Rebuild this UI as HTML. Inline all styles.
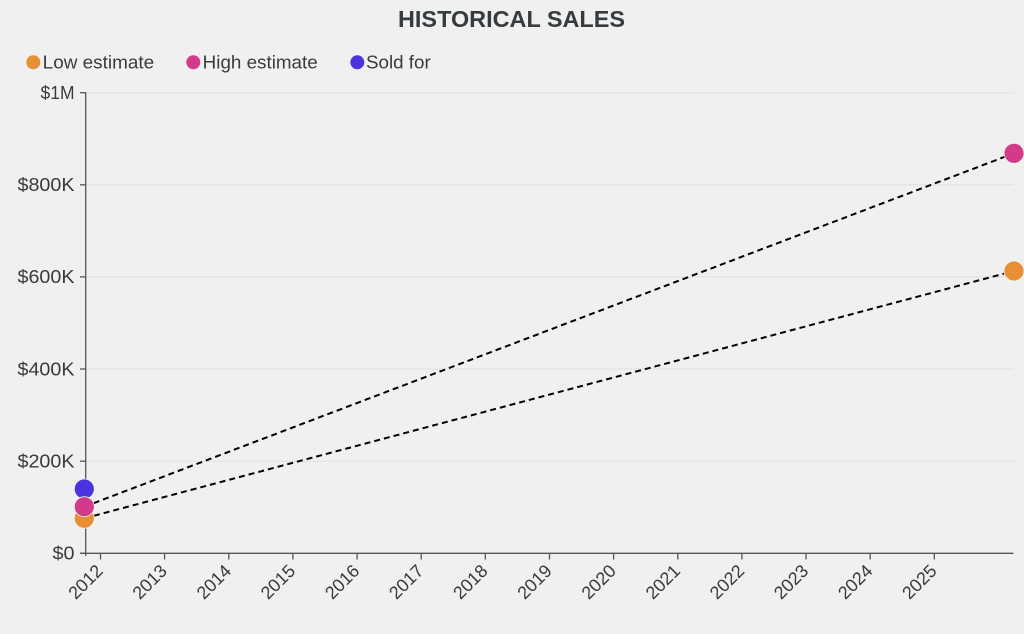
<!DOCTYPE html>
<html>
<head>
<meta charset="utf-8">
<style>
  html, body { margin: 0; padding: 0; background: #f0f0f0; }
  body { width: 1024px; height: 634px; overflow: hidden; }
  svg { display: block; font-family: "Liberation Sans", Arial, sans-serif; }
</style>
</head>
<body>
<svg width="1024" height="634" viewBox="0 0 1024 634" xmlns="http://www.w3.org/2000/svg">
  <rect width="1024" height="634" fill="#f0f0f0"/>

  <!-- Title -->
  <text x="398" y="27" font-size="23.5" font-weight="bold" fill="#353b3e" textLength="227" lengthAdjust="spacingAndGlyphs">HISTORICAL SALES</text>

  <!-- Legend -->
  <circle cx="33.3" cy="62.3" r="7" fill="#e88f33"/>
  <text x="42.7" y="68.3" font-size="18.5" fill="#383b3e" textLength="111.5" lengthAdjust="spacingAndGlyphs">Low estimate</text>
  <circle cx="193.3" cy="62.3" r="7" fill="#d33a8a"/>
  <text x="202.7" y="68.3" font-size="18.5" fill="#383b3e" textLength="115" lengthAdjust="spacingAndGlyphs">High estimate</text>
  <circle cx="357.3" cy="62.3" r="7" fill="#4b33e0"/>
  <text x="366" y="68.3" font-size="18.5" fill="#383b3e" textLength="64.7" lengthAdjust="spacingAndGlyphs">Sold for</text>

  <!-- Gridlines -->
  <g stroke="#e0e0e0" stroke-width="1">
    <line x1="86" y1="92.7" x2="1014" y2="92.7"/>
    <line x1="86" y1="184.8" x2="1014" y2="184.8"/>
    <line x1="86" y1="276.9" x2="1014" y2="276.9"/>
    <line x1="86" y1="369" x2="1014" y2="369"/>
    <line x1="86" y1="461.2" x2="1014" y2="461.2"/>
  </g>

  <!-- Y axis -->
  <g stroke="#555" stroke-width="1.3">
    <line x1="85.7" y1="92.2" x2="85.7" y2="556"/>
    <line x1="80" y1="92.7" x2="85.7" y2="92.7"/>
    <line x1="80" y1="184.8" x2="85.7" y2="184.8"/>
    <line x1="80" y1="276.9" x2="85.7" y2="276.9"/>
    <line x1="80" y1="369" x2="85.7" y2="369"/>
    <line x1="80" y1="461.2" x2="85.7" y2="461.2"/>
    <line x1="80" y1="553.3" x2="85.7" y2="553.3"/>
  </g>
  <g font-size="18" fill="#383b3e" text-anchor="end">
    <text x="74.5" y="99" textLength="34" lengthAdjust="spacingAndGlyphs">$1M</text>
    <text x="74.5" y="191.1" textLength="57" lengthAdjust="spacingAndGlyphs">$800K</text>
    <text x="74.5" y="283.2" textLength="57" lengthAdjust="spacingAndGlyphs">$600K</text>
    <text x="74.5" y="375.3" textLength="57" lengthAdjust="spacingAndGlyphs">$400K</text>
    <text x="74.5" y="467.5" textLength="57" lengthAdjust="spacingAndGlyphs">$200K</text>
    <text x="74.5" y="559.6" textLength="22" lengthAdjust="spacingAndGlyphs">$0</text>
  </g>

  <!-- X axis -->
  <g stroke="#555" stroke-width="1.3">
    <line x1="80" y1="553.3" x2="1013.5" y2="553.3"/>
    <line x1="100.5" y1="553.3" x2="100.5" y2="559.5"/>
    <line x1="164.6" y1="553.3" x2="164.6" y2="559.5"/>
    <line x1="228.8" y1="553.3" x2="228.8" y2="559.5"/>
    <line x1="292.9" y1="553.3" x2="292.9" y2="559.5"/>
    <line x1="357.1" y1="553.3" x2="357.1" y2="559.5"/>
    <line x1="421.2" y1="553.3" x2="421.2" y2="559.5"/>
    <line x1="485.3" y1="553.3" x2="485.3" y2="559.5"/>
    <line x1="549.5" y1="553.3" x2="549.5" y2="559.5"/>
    <line x1="613.6" y1="553.3" x2="613.6" y2="559.5"/>
    <line x1="677.8" y1="553.3" x2="677.8" y2="559.5"/>
    <line x1="741.9" y1="553.3" x2="741.9" y2="559.5"/>
    <line x1="806.0" y1="553.3" x2="806.0" y2="559.5"/>
    <line x1="870.2" y1="553.3" x2="870.2" y2="559.5"/>
    <line x1="934.3" y1="553.3" x2="934.3" y2="559.5"/>
  </g>
  <g font-size="18" fill="#383b3e" text-anchor="end">
    <text transform="translate(104,572) rotate(-45)" textLength="40" lengthAdjust="spacingAndGlyphs">2012</text>
    <text transform="translate(168.1,572) rotate(-45)" textLength="40" lengthAdjust="spacingAndGlyphs">2013</text>
    <text transform="translate(232.3,572) rotate(-45)" textLength="40" lengthAdjust="spacingAndGlyphs">2014</text>
    <text transform="translate(296.4,572) rotate(-45)" textLength="40" lengthAdjust="spacingAndGlyphs">2015</text>
    <text transform="translate(360.6,572) rotate(-45)" textLength="40" lengthAdjust="spacingAndGlyphs">2016</text>
    <text transform="translate(424.7,572) rotate(-45)" textLength="40" lengthAdjust="spacingAndGlyphs">2017</text>
    <text transform="translate(488.8,572) rotate(-45)" textLength="40" lengthAdjust="spacingAndGlyphs">2018</text>
    <text transform="translate(553.0,572) rotate(-45)" textLength="40" lengthAdjust="spacingAndGlyphs">2019</text>
    <text transform="translate(617.1,572) rotate(-45)" textLength="40" lengthAdjust="spacingAndGlyphs">2020</text>
    <text transform="translate(681.3,572) rotate(-45)" textLength="40" lengthAdjust="spacingAndGlyphs">2021</text>
    <text transform="translate(745.4,572) rotate(-45)" textLength="40" lengthAdjust="spacingAndGlyphs">2022</text>
    <text transform="translate(809.5,572) rotate(-45)" textLength="40" lengthAdjust="spacingAndGlyphs">2023</text>
    <text transform="translate(873.7,572) rotate(-45)" textLength="40" lengthAdjust="spacingAndGlyphs">2024</text>
    <text transform="translate(937.8,572) rotate(-45)" textLength="40" lengthAdjust="spacingAndGlyphs">2025</text>
  </g>

  <!-- Dashed lines -->
  <g stroke="#000" stroke-width="2" stroke-dasharray="6,4" fill="none">
    <line x1="84.3" y1="506.7" x2="1014" y2="153.3"/>
    <line x1="84.3" y1="518.3" x2="1014" y2="271"/>
  </g>

  <!-- Points -->
  <g stroke="#f4f4f4" stroke-width="0.8">
    <circle cx="84.3" cy="518.3" r="10" fill="#e88f33"/>
    <circle cx="84.3" cy="489" r="10" fill="#4b33e0"/>
    <circle cx="84.3" cy="506.7" r="10" fill="#d33a8a"/>
    <circle cx="1014" cy="271" r="10" fill="#e88f33"/>
    <circle cx="1014" cy="153.3" r="10" fill="#d33a8a"/>
  </g>
</svg>
</body>
</html>
